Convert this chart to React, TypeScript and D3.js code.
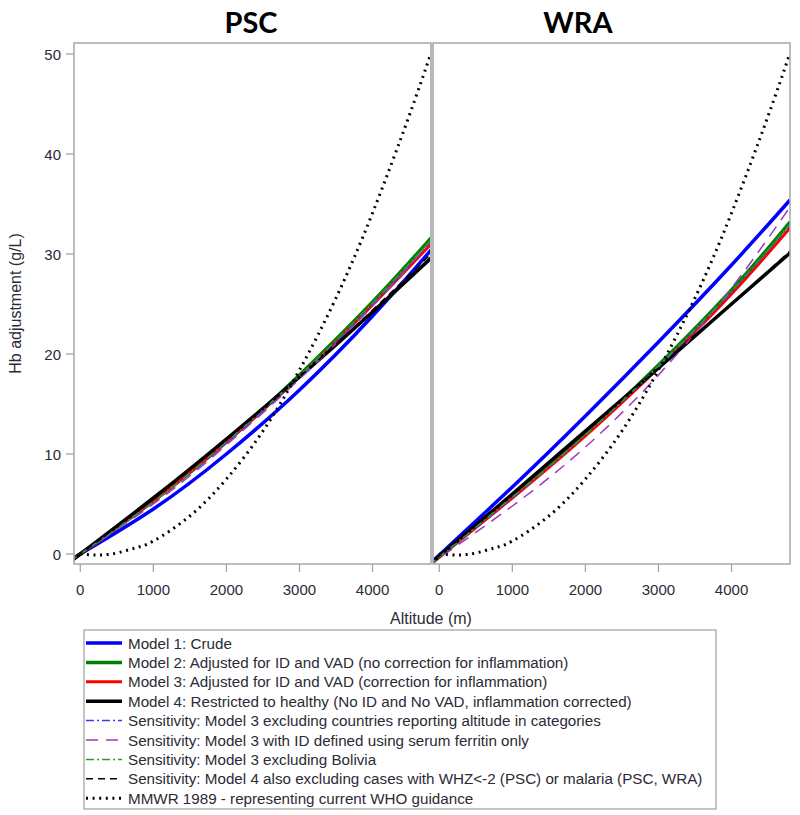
import React from "react";
import * as d3 from "d3";

// ---------- data ----------
const ALT = [-86, 0, 1000, 2000, 3000, 4000, 4800];
const ALT_MMWR = [0, 250, 500, 750, 1000, 1500, 2000, 2500, 3000, 3500, 4000, 4500, 4800];
const MMWR = [0, -0.1, 0.1, 0.6, 1.3, 3.8, 7.5, 12.3, 18.4, 25.6, 34.1, 43.8, 50.1];

const PSC_M1 = [-0.4, 0, 4.5, 10.0, 16.4, 23.8, 30.4];
const PSC_M2 = [-0.5, 0, 5.3, 11.2, 17.9, 25.2, 31.6];
const PSC_M3 = [-0.5, 0, 5.3, 11.2, 17.7, 24.9, 31.0];
const PSC_M4 = [-0.5, 0, 5.6, 11.5, 17.7, 24.2, 29.6];
const PSC_S1 = [-0.5, 0, 5.2, 11.1, 17.7, 24.9, 31.2];
const PSC_S2 = [-0.5, 0, 5.0, 10.9, 17.5, 24.8, 31.3];
const PSC_S3 = [-0.5, 0, 5.2, 11.2, 17.8, 25.1, 31.4];
const PSC_S4 = [-0.5, 0, 5.5, 11.4, 17.7, 24.4, 30.0];

const WRA_M1 = [-0.7, -0.1, 6.7, 13.8, 21.2, 28.9, 35.4];
const WRA_M2 = [-0.8, -0.3, 5.7, 12.0, 18.9, 26.4, 33.2];
const WRA_M3 = [-0.8, -0.3, 5.6, 11.8, 18.6, 26.0, 32.6];
const WRA_M4 = [-0.8, -0.2, 6.0, 12.3, 18.6, 25.0, 30.1];
const WRA_S1 = [-0.8, -0.3, 5.6, 11.9, 18.7, 26.2, 32.9];
const WRA_S2 = [-0.9, -0.4, 4.8, 10.7, 17.9, 26.6, 34.7];
const WRA_S3 = [-0.8, -0.3, 5.7, 11.9, 18.8, 26.3, 33.0];
const WRA_S4 = [-0.8, -0.2, 6.0, 12.3, 18.6, 25.0, 30.3];

const PANELS = ["PSC", "WRA"];
const X_TICKS = [0, 1000, 2000, 3000, 4000];
const Y_TICKS = [0, 10, 20, 30, 40, 50];

const LEGEND_LABELS = [
  "Model 1: Crude",
  "Model 2: Adjusted for ID and VAD (no correction for inflammation)",
  "Model 3: Adjusted for ID and VAD (correction for inflammation)",
  "Model 4: Restricted to healthy (No ID and No VAD, inflammation corrected)",
  "Sensitivity: Model 3 excluding countries reporting altitude in categories",
  "Sensitivity: Model 3 with ID defined using serum ferritin only",
  "Sensitivity: Model 3 excluding Bolivia",
  "Sensitivity: Model 4 also excluding cases with WHZ<-2 (PSC) or malaria (PSC, WRA)",
  "MMWR 1989 - representing current WHO guidance",
];

// ---------- styles ----------
const STYLES = [
  { color: "#0000ff", width: 3.5, dash: "" },
  { color: "#008000", width: 3.5, dash: "" },
  { color: "#ff0000", width: 3, dash: "" },
  { color: "#000000", width: 3.5, dash: "" },
  { color: "#3a3aff", width: 1.5, dash: "8 3 2 3" },
  { color: "#a038c0", width: 1.5, dash: "12 8" },
  { color: "#2a9a2a", width: 1.5, dash: "8 3 2 3" },
  { color: "#000000", width: 1.5, dash: "7 5" },
  { color: "#000000", width: 3, dash: "2 4.6" },
];

const SERIES: Record<string, number[][]> = {
  PSC: [PSC_M1, PSC_M2, PSC_M3, PSC_M4, PSC_S1, PSC_S2, PSC_S3, PSC_S4],
  WRA: [WRA_M1, WRA_M2, WRA_M3, WRA_M4, WRA_S1, WRA_S2, WRA_S3, WRA_S4],
};

const W = 800;
const H = 815;
const TOP = 43;
const BOTTOM = 564;
const PANEL_X = [[74, 431], [433, 790]];
const FONT = "'Liberation Sans', Arial, sans-serif";
const TITLE_FONT = "Lato, 'Open Sans', sans-serif";
const TEXT_COLOR = "#2b2b36";
const FRAME = "#a6a6a6";

export default function App() {
  const y = d3.scaleLinear().domain([-1.0, 51.1]).range([BOTTOM, TOP]);

  const panels = PANELS.map((name, pi) => {
    const x = d3.scaleLinear().domain([-86, 4800]).range(PANEL_X[pi]);
    const line = d3
      .line<[number, number]>()
      .x((d) => x(d[0]))
      .y((d) => y(d[1]))
      .curve(d3.curveNatural);
    const series = SERIES[name];
    const clipId = `clip-${name}`;
    return (
      <g key={name}>
        <defs>
          <clipPath id={clipId}>
            <rect x={PANEL_X[pi][0]} y={TOP} width={PANEL_X[pi][1] - PANEL_X[pi][0]} height={BOTTOM - TOP} />
          </clipPath>
        </defs>
        <g clipPath={`url(#${clipId})`}>
          {series.map((vals, si) => (
            <path
              key={si}
              d={line(ALT.map((a, i) => [a, vals[i]]) as [number, number][]) || ""}
              fill="none"
              stroke={STYLES[si].color}
              strokeWidth={STYLES[si].width}
              strokeDasharray={STYLES[si].dash || undefined}
            />
          ))}
          <path
            d={line(ALT_MMWR.map((a, i) => [a, MMWR[i]]) as [number, number][]) || ""}
            fill="none"
            stroke={STYLES[8].color}
            strokeWidth={STYLES[8].width}
            strokeDasharray={STYLES[8].dash}
          />
        </g>
        <rect
          x={PANEL_X[pi][0]}
          y={TOP}
          width={PANEL_X[pi][1] - PANEL_X[pi][0]}
          height={BOTTOM - TOP}
          fill="none"
          stroke={FRAME}
          strokeWidth={1.5}
        />
        <text
          x={pi === 0 ? 251 : 578}
          y={33}
          textAnchor="middle"
          fontFamily={TITLE_FONT}
          fontWeight={700}
          fontSize={29}
          fill="#000"
        >
          {name}
        </text>
        {X_TICKS.map((t) => (
          <g key={t}>
            <line x1={x(t)} x2={x(t)} y1={BOTTOM} y2={BOTTOM + 8} stroke={FRAME} strokeWidth={1.3} />
            <text x={x(t)} y={BOTTOM + 31} textAnchor="middle" fontFamily={FONT} fontSize={15} fill={TEXT_COLOR}>
              {t}
            </text>
          </g>
        ))}
      </g>
    );
  });

  const legendX = 84;
  const legendY0 = 643;
  const legendDy = 19.4;

  return (
    <svg width={W} height={H} style={{ display: "block", position: "absolute", left: 0, top: 0 }}>
      <rect x={0} y={0} width={W} height={H} fill="#fff" />
      {panels}
      <rect x={430} y={TOP} width={3.5} height={BOTTOM - TOP} fill="#b8b8b8" />
      {Y_TICKS.map((t) => (
        <g key={t}>
          <line x1={66} x2={74} y1={y(t)} y2={y(t)} stroke={FRAME} strokeWidth={1.3} />
          <text x={61} y={y(t) + 5.5} textAnchor="end" fontFamily={FONT} fontSize={15} fill={TEXT_COLOR}>
            {t}
          </text>
        </g>
      ))}
      <text
        transform={`translate(21, ${(TOP + BOTTOM) / 2}) rotate(-90)`}
        textAnchor="middle"
        fontFamily={FONT}
        fontSize={16}
        fill={TEXT_COLOR}
      >
        Hb adjustment (g/L)
      </text>
      <text x={431} y={624} textAnchor="middle" fontFamily={FONT} fontSize={16} fill={TEXT_COLOR}>
        Altitude (m)
      </text>
      <rect x={legendX} y={630} width={632} height={179} fill="none" stroke={FRAME} strokeWidth={1.3} />
      {LEGEND_LABELS.map((lab, i) => {
        const yy = legendY0 + i * legendDy;
        const s = STYLES[i];
        return (
          <g key={i}>
            <line
              x1={legendX + 2}
              x2={legendX + 38}
              y1={yy}
              y2={yy}
              stroke={s.color}
              strokeWidth={s.width}
              strokeDasharray={s.dash || undefined}
            />
            <text x={128} y={yy + 5.5} fontFamily={FONT} fontSize={15.2} fill={TEXT_COLOR}>
              {lab}
            </text>
          </g>
        );
      })}
    </svg>
  );
}
